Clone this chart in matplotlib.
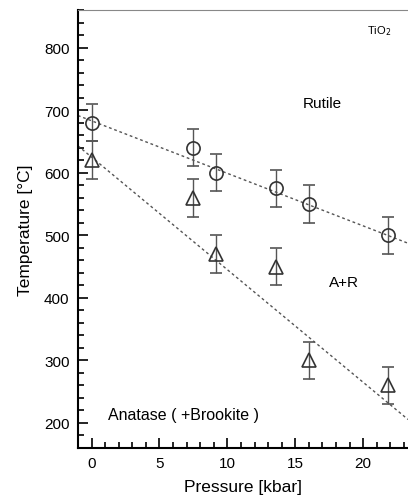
import numpy as np
import matplotlib.pyplot as plt
from matplotlib.ticker import MultipleLocator

plt.rcParams['font.family'] = ['Liberation Sans', 'DejaVu Sans']

# rutile-in (circles) and anatase-out (triangles)
p_rut = [0, 7.5, 9.2, 13.6, 16, 21.8]
t_rut = [680, 640, 600, 575, 550, 500]
e_rut = [30, 30, 30, 30, 30, 30]

p_ana = [0, 7.5, 9.2, 13.6, 16, 21.8]
t_ana = [620, 560, 470, 450, 300, 260]
e_ana = [30, 30, 30, 30, 30, 30]

# dashed boundary lines: intercept, slope
rut_fit = (683, -8.4)
ana_fit = (625, -18.0)

xlim = (-1, 23.3)
ylim = (160, 860)

fig = plt.figure(figsize=(4.08, 5.02), dpi=100)
ax = fig.add_axes([0.191, 0.1056, 0.809, 0.8724])

xx = np.array(xlim)
ax.plot(xx, rut_fit[0] + rut_fit[1] * xx, ls=(0, (2, 2)), lw=1, color='#555555')
ax.plot(xx, ana_fit[0] + ana_fit[1] * xx, ls=(0, (2, 2)), lw=1, color='#555555')

ax.errorbar(p_rut, t_rut, yerr=e_rut, fmt='o', ms=9.5, mfc='none', mec='#333333',
            mew=1.2, ecolor='#555555', elinewidth=1, capsize=4, capthick=1)
ax.errorbar(p_ana, t_ana, yerr=e_ana, fmt='^', ms=10.5, mfc='none', mec='#333333',
            mew=1.2, ecolor='#555555', elinewidth=1, capsize=4, capthick=1)

ax.set_xlim(*xlim)
ax.set_ylim(*ylim)
ax.xaxis.set_major_locator(MultipleLocator(5))
ax.xaxis.set_minor_locator(MultipleLocator(1))
ax.yaxis.set_major_locator(MultipleLocator(100))
ax.yaxis.set_minor_locator(MultipleLocator(20))
ax.set_yticks([200, 300, 400, 500, 600, 700, 800])
ax.tick_params(which='both', direction='in', width=1.2, labelsize=11)
ax.tick_params(which='major', length=7, pad=6)
ax.tick_params(which='minor', length=4)
ax.spines['right'].set_visible(False)
ax.spines['left'].set_linewidth(1.5)
ax.spines['bottom'].set_linewidth(1.5)
ax.spines['top'].set_color('#888888')

ax.set_xlabel('Pressure [kbar]', fontsize=12.5, labelpad=6)
ax.set_ylabel('Temperature [°C]', fontsize=12.5, labelpad=8)

ax.text(21.2, 828, 'TiO$_2$', fontsize=8, ha='center', va='center')
ax.text(17.0, 711, 'Rutile', fontsize=11, ha='center', va='center')
ax.text(18.6, 425, 'A+R', fontsize=11, ha='center', va='center')
ax.text(1.2, 213, 'Anatase ( +Brookite )', fontsize=11.5, ha='left', va='center')

fig.savefig('out.png', dpi=100)
